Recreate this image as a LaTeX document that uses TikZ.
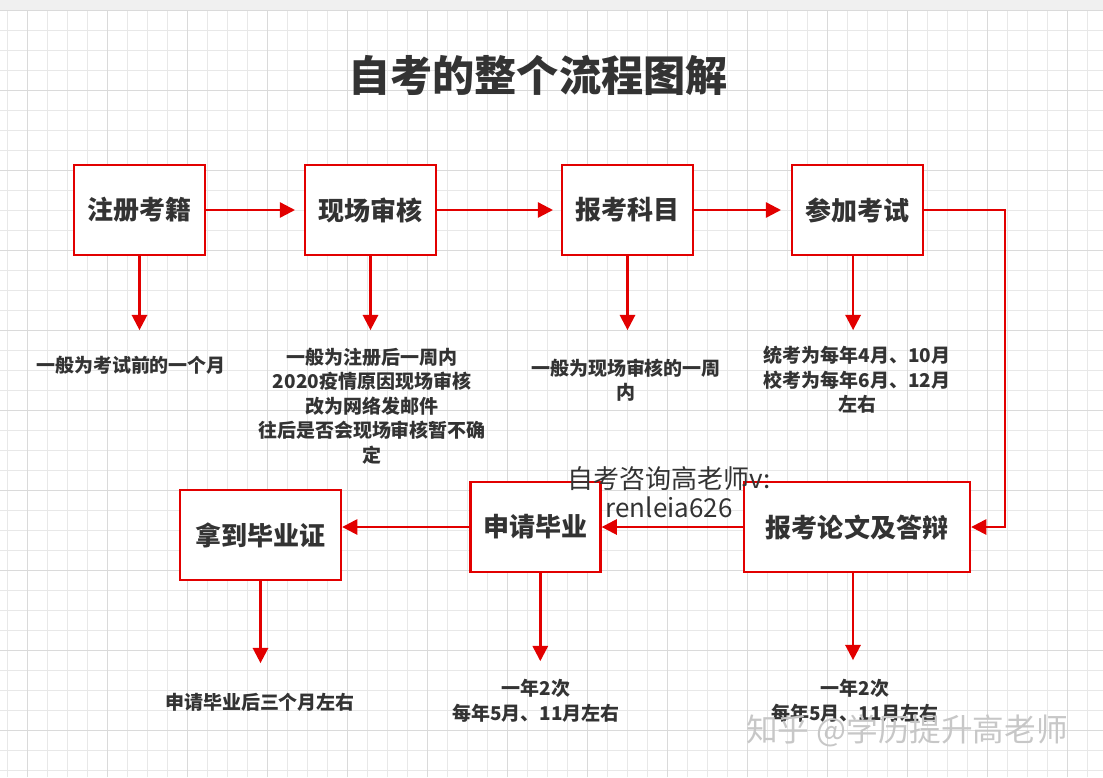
\documentclass[tikz,border=0pt]{standalone}
\usepackage{fontspec}
\setmainfont{Noto Sans CJK SC}
\usetikzlibrary{arrows.meta}
\definecolor{boxred}{RGB}{226,0,0}
\definecolor{inkgray}{RGB}{51,51,51}
\definecolor{gridgray}{RGB}{232,232,232}
\definecolor{gridmajor}{RGB}{218,218,218}

\begin{document}
\begin{tikzpicture}[x=0.025cm, y=-0.025cm, >={Triangle[length=0.38cm, width=0.38cm]},
    stepbox/.style={draw=boxred, line width=1.6pt, fill=white, minimum height=2.25cm,
        text=inkgray, font=\fontsize{18.5}{20}\selectfont\bfseries, inner sep=0pt},
    note/.style={text=inkgray, align=center, font=\fontsize{13.5}{17.5}\selectfont\bfseries, inner sep=0pt},
    flow/.style={->, draw=boxred, line width=1.7pt}]
        % background and grid
        \useasboundingbox (0, 0) rectangle (1103, 777);
        \fill [white] (0, 0) rectangle (1103, 777);
        \fill [black!6] (0, 0) rectangle (1103, 10);
        \foreach \gx in {7, 27, ..., 1103} \draw [gridgray, line width=0.5pt] (\gx, 10) -- (\gx, 777);
        \foreach \gy in {10, 30, ..., 777} \draw [gridgray, line width=0.5pt] (0, \gy) -- (1103, \gy);
        \foreach \gx in {27, 107, ..., 1103} \draw [gridmajor, line width=0.6pt] (\gx, 10) -- (\gx, 777);
        \foreach \gy in {10, 90, ..., 777} \draw [gridmajor, line width=0.6pt] (0, \gy) -- (1103, \gy);

        \node (title) at (538, 75) [text=inkgray, font=\fontsize{30}{32}\selectfont\bfseries] {自考的整个流程图解};

        % top row
        \node (zcreg) at (139.5, 210) [stepbox, minimum width=3.275cm] {注册考籍};
        \node (xcsh) at (370.5, 210) [stepbox, minimum width=3.275cm] {现场审核};
        \node (bkkm) at (627.5, 210) [stepbox, minimum width=3.275cm] {报考科目};
        \node (cjks) at (857.5, 210) [stepbox, minimum width=3.275cm] {参加考试};

        % bottom row
        \node (lwdb) at (857, 527) [stepbox, minimum width=5.65cm] {报考论文及答辩};
        \node (sqby) at (535.5, 527) [stepbox, minimum width=3.25cm] {申请毕业};
        \node (ndbyz) at (260.5, 535) [stepbox, minimum width=4.025cm] {拿到毕业证};

        % notes
        \node (zcnote) at (131, 365) [note] {一般为考试前的一个月};
        \node (xcnote) at (372, 406) [note] {一般为注册后一周内\\2020疫情原因现场审核\\改为网络发邮件\\往后是否会现场审核暂不确\\定};
        \node (bknote) at (626, 380) [note] {一般为现场审核的一周\\内};
        \node (cjnote) at (857, 380) [note] {统考为每年4月、10月\\校考为每年6月、12月\\左右};
        \node (lwnote) at (855, 701) [note] {一年2次\\每年5月、11月左右};
        \node (sqnote) at (536, 701) [note] {一年2次\\每年5月、11月左右};
        \node (ndnote) at (260, 702) [note] {申请毕业后三个月左右};

        \node (contact) at (669, 492) [text=inkgray, align=center, font=\fontsize{18.5}{20.5}\selectfont] {自考咨询高老师v:\\renleia626};
        \node (mark) at (907, 731) [text=black!22, font=\fontsize{22.5}{24}\selectfont] {知乎 @学历提升高老师};

        % flow arrows
        \coordinate (turn) at (1005, 210);
        \draw [flow] (zcreg) -- (295, 210);
        \draw [flow] (xcsh) -- (553, 210);
        \draw [flow] (bkkm) -- (781, 210);
        \draw [flow] (cjks.east) -- (turn) |- (lwdb.east);
        \draw [flow] (lwdb) -- (sqby);
        \draw [flow] (sqby.west) -- (ndbyz.east |- sqby.west);

        \draw [flow] (zcreg.south) -- ++(0, 74);
        \draw [flow] (xcsh.south) -- ++(0, 74);
        \draw [flow] (bkkm.south) -- ++(0, 74);
        \draw [flow] ([xshift=-0.11cm]cjks.south) -- ++(0, 74);
        \draw [flow] ([xshift=-0.1cm]lwdb.south) -- ++(0, 87);
        \draw [flow] ([xshift=0.12cm]sqby.south) -- ++(0, 88);
        \draw [flow] (ndbyz.south) -- ++(0, 82);
    \end{tikzpicture}
\end{document}
